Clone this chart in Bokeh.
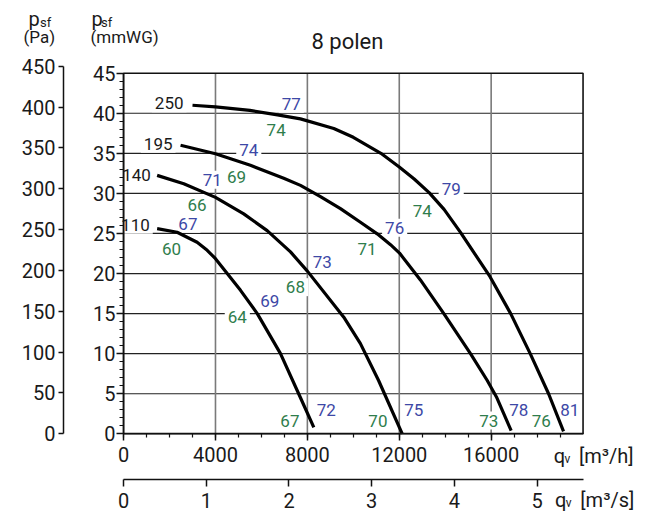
from bokeh.plotting import figure
from bokeh.models import Range1d, LinearAxis, FixedTicker, Label
from bokeh.core.properties import value
from bokeh.embed import file_html
from bokeh.resources import INLINE

FONT = "Roboto"
BLUE = "#3d48a6"
GREEN = "#2f7d4c"
INK = "#1a1a1a"

# fan curves: q [m3/h], p_sf [mmWG]
q250 = [3000, 4000, 5500, 6700, 7700, 9150, 10000, 11200, 12000, 12650, 13300, 13950, 14650, 15950, 16850, 17700, 18500, 19150]
p250 = [41.0, 40.8, 40.35, 39.8, 39.3, 38.1, 37.0, 35.0, 33.3, 31.8, 30.1, 28.0, 25.2, 19.6, 15.0, 10.0, 5.0, 0.3]
q195 = [2480, 4000, 5520, 6970, 7700, 8570, 9440, 10310, 11040, 11620, 12010, 12920, 13940, 15100, 15830, 16230, 16870]
p195 = [36.0, 34.95, 33.5, 31.9, 31.0, 29.6, 28.1, 26.4, 24.95, 23.6, 22.55, 19.2, 15.0, 10.0, 6.65, 4.6, 0.4]
q140 = [1460, 2620, 4000, 5230, 6250, 7265, 8000, 9585, 10310, 11100, 12130]
p140 = [32.25, 31.2, 29.5, 27.45, 25.35, 22.7, 20.3, 14.55, 11.25, 6.65, 0.0]
q110 = [1460, 2330, 3200, 3640, 4000, 5090, 5820, 6830, 7700, 8280]
p110 = [25.6, 25.15, 23.9, 22.9, 21.85, 17.9, 15.0, 10.0, 4.5, 0.8]

# speed labels (rpm)
speed_txt = ["250", "195", "140", "110"]
speed_x = [2740, 2260, 1315, 1270]
speed_y = [41.25, 36.2, 32.25, 26.1]

# blue values
blue_txt = ["77", "74", "71", "67", "79", "76", "73", "69", "72", "75", "78", "81"]
blue_x = [7300, 5450, 3860, 2800, 14260, 11800, 8650, 6360, 8820, 12630, 17200, 19420]
blue_y = [41.2, 35.4, 31.7, 26.2, 30.6, 25.7, 21.5, 16.6, 3.0, 3.0, 3.0, 3.0]

# green values
green_txt = ["74", "69", "66", "60", "74", "71", "68", "64", "67", "70", "73", "76"]
green_x = [6640, 4920, 3200, 2090, 13000, 10600, 7480, 4950, 7240, 11070, 15900, 18180]
green_y = [37.9, 32.1, 28.5, 23.0, 27.8, 23.0, 18.3, 14.6, 1.66, 1.66, 1.66, 1.66]

mm_ticks = [0, 5, 10, 15, 20, 25, 30, 35, 40, 45]
mm_minor = list(range(0, 46))
pa_ticks = [0, 50, 100, 150, 200, 250, 300, 350, 400, 450]
qh_ticks = [0, 4000, 8000, 12000, 16000]
qh_minor = list(range(0, 20000, 1000))
qs_ticks = [0, 1, 2, 3, 4, 5]
hgrid = [5, 10, 15, 20, 25, 30, 35, 40]
vgrid = [4000, 8000, 12000, 16000]

PA_PER_MM = 9.81
M3H_PER_M3S = 3600.0

# the frame spans the whole canvas; axes are placed at fixed locations inside it
XR = (-5358, 22936)
YR = (-9.82, 54.07)
p = figure(width=650, height=512, x_range=Range1d(*XR), y_range=Range1d(*YR),
           output_backend="svg", toolbar_location=None, x_axis_type=None, y_axis_type=None,
           min_border=0, outline_line_color=None)
p.extra_y_ranges = {"pa": Range1d(YR[0] * PA_PER_MM, YR[1] * PA_PER_MM)}
p.extra_x_ranges = {"ms": Range1d(XR[0] / M3H_PER_M3S, XR[1] / M3H_PER_M3S)}

# grid
p.segment(x0=[0] * len(hgrid), x1=[20000] * len(hgrid), y0=hgrid, y1=hgrid, line_color="#222222", line_width=1.2)
p.segment(x0=vgrid, x1=vgrid, y0=[0] * len(vgrid), y1=[45] * len(vgrid), line_color="#7a7a7a", line_width=1.6)

common = dict(text_font=value(FONT), text_font_size=value("17px"), text_baseline="middle",
              background_fill_color="white", padding=3)
p.text(x=speed_x, y=speed_y, text=speed_txt, text_color=INK, text_align="right", **common)
p.text(x=blue_x, y=blue_y, text=blue_txt, text_color=BLUE, text_align="center", **common)
p.text(x=green_x, y=green_y, text=green_txt, text_color=GREEN, text_align="center", **common)

for q, ps in [(q250, p250), (q195, p195), (q140, p140), (q110, p110)]:
    p.line(q, ps, line_color="black", line_width=3.2)

p.quad(left=[0], right=[20000], bottom=[0], top=[45], fill_color=None, line_color="#111111", line_width=1.6)

tick_font = dict(major_label_text_font=FONT, major_label_text_font_size="20px", major_label_text_color=INK,
                 axis_line_color="#111111", axis_line_width=1.5, major_tick_line_color="#111111",
                 major_tick_line_width=1.5, minor_tick_line_color="#111111", minor_tick_line_width=1.2,
                 major_tick_in=0, minor_tick_in=0)

ax_mm = LinearAxis(ticker=FixedTicker(ticks=mm_ticks, minor_ticks=mm_minor), bounds=(0, 45),
                   fixed_location=0, major_tick_out=7, minor_tick_out=4, major_label_standoff=1, **tick_font)
ax_pa = LinearAxis(y_range_name="pa", ticker=FixedTicker(ticks=pa_ticks), bounds=(0, 450),
                   fixed_location=-2616, major_tick_out=5, minor_tick_out=0, major_label_standoff=3, **tick_font)
ax_qh = LinearAxis(ticker=FixedTicker(ticks=qh_ticks, minor_ticks=qh_minor), bounds=(0, 20000),
                   fixed_location=0, major_tick_out=7, minor_tick_out=4, major_label_standoff=6, **tick_font)
ax_qs = LinearAxis(x_range_name="ms", ticker=FixedTicker(ticks=qs_ticks), bounds=(0, 20000 / M3H_PER_M3S),
                   fixed_location=-5.74, major_tick_out=7, minor_tick_out=0, major_label_standoff=6, **tick_font)
p.add_layout(ax_mm, "left")
p.add_layout(ax_pa, "left")
p.add_layout(ax_qh, "below")
p.add_layout(ax_qs, "below")

# headings and unit labels (data coordinates)
def lab(x, y, t, size, align="left", base="alphabetic"):
    p.add_layout(Label(x=x, y=y, text=t, text_font=FONT, text_font_size=size, text_color=INK,
                       text_align=align, text_baseline=base))

lab(-4140, 51.75, "p", "20px")
lab(-3640, 51.3, "sf", "13px")
lab(-4357, 49.55, "(Pa)", "17px")
lab(-1397, 51.75, "p", "20px")
lab(-985, 51.3, "sf", "13px")
lab(-1441, 49.55, "(mmWG)", "17px")
lab(9746, 48.95, "8 polen", "22px", align="center")
lab(18720, -2.8, "q", "20px")
lab(19190, -3.1, "v", "12px")
lab(19820, -2.8, "[m³/h]", "20px")
lab(18780, -8.3, "q", "20px")
lab(19250, -8.6, "v", "12px")
lab(19880, -8.3, "[m³/s]", "20px")

open("out.html", "w").write(file_html(p, INLINE))
